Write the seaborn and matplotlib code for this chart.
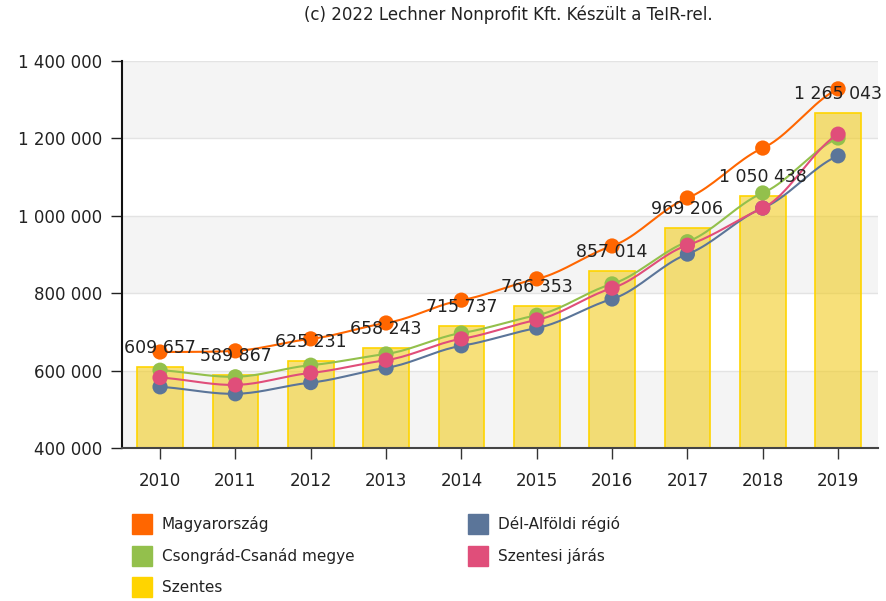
import numpy as np
import pandas as pd
import matplotlib
matplotlib.use("Agg")
import matplotlib.pyplot as plt
from matplotlib.lines import Line2D
import seaborn as sns

years = ["2010", "2011", "2012", "2013", "2014", "2015", "2016", "2017", "2018", "2019"]
szentes = [609657, 589867, 625231, 658243, 715737, 766353, 857014, 969206, 1050438, 1265043]
magyarorszag = [648000, 651000, 682000, 723000, 782000, 837000, 922000, 1046000, 1175000, 1328000]
csongrad = [601000, 584000, 614000, 643000, 697000, 743000, 824000, 933000, 1059000, 1201000]
szentesi_jaras = [582000, 563000, 594000, 627000, 682000, 731000, 813000, 924000, 1020000, 1211000]
del_alfold = [558000, 540000, 569000, 607000, 664000, 710000, 785000, 901000, 1020000, 1155000]

y_ticks = [400000, 600000, 800000, 1000000, 1200000, 1400000]

c_hu = "#FF6600"
c_cs = "#93C04C"
c_da = "#5B7599"
c_sj = "#E04E7A"
c_sz = "#FFD400"

sns.set_theme(style="white")
plt.rcParams["font.family"] = ["DejaVu Sans"]


def fmt(v):
    return f"{v:,}".replace(",", " ")


def smooth(xs, ys, n=20):
    """Cubic Hermite curve through the points, tangents from neighbours."""
    xs = np.asarray(xs, float)
    ys = np.asarray(ys, float)
    m = np.zeros_like(ys)
    m[1:-1] = (ys[2:] - ys[:-2]) / 2.0
    m[0] = ys[1] - ys[0]
    m[-1] = ys[-1] - ys[-2]
    m *= 0.6
    out_x, out_y = [], []
    for i in range(len(xs) - 1):
        t = np.linspace(0, 1, n, endpoint=False)
        h00 = 2 * t**3 - 3 * t**2 + 1
        h10 = t**3 - 2 * t**2 + t
        h01 = -2 * t**3 + 3 * t**2
        h11 = t**3 - t**2
        out_x.append(xs[i] + t * (xs[i + 1] - xs[i]))
        out_y.append(h00 * ys[i] + h10 * m[i] + h01 * ys[i + 1] + h11 * m[i + 1])
    out_x.append([xs[-1]])
    out_y.append([ys[-1]])
    return np.concatenate(out_x), np.concatenate(out_y)


fig = plt.figure(figsize=(8.87, 6.01), dpi=100)
ax = fig.add_axes([122 / 887, 1 - 448 / 601, (878 - 122) / 887, (448 - 61) / 601])

# alternating horizontal bands
for lo in (400000, 800000, 1200000):
    ax.axhspan(lo, lo + 200000, facecolor="#F4F4F4", zorder=0, lw=0)

ax.set_axisbelow(True)
ax.grid(True, axis="both", color="#E3E3E3", lw=1)

df = pd.DataFrame({"year": years, "value": szentes})
sns.barplot(data=df, x="year", y="value", ax=ax, color=c_sz,
            width=0.605, linewidth=1.2, saturation=1, zorder=2)
for container in ax.containers:
    for p in container:
        p.set_facecolor((0.95, 0.80, 0.13, 0.6))
        p.set_edgecolor(c_sz)

idx = np.arange(len(years))
series = [
    ("Magyarország", magyarorszag, c_hu),
    ("Dél-Alföldi régió", del_alfold, c_da),
    ("Csongrád-Csanád megye", csongrad, c_cs),
    ("Szentesi járás", szentesi_jaras, c_sj),
]
for z, (name, vals, col) in enumerate(series):
    sx, sy = smooth(idx, vals)
    ax.plot(sx, sy, color=col, lw=1.5, zorder=4 + z * 0.1)
    sns.scatterplot(x=idx, y=vals, ax=ax, color=col, s=120, edgecolor="none",
                    zorder=4.05 + z * 0.1, legend=False)

for i, v in enumerate(szentes):
    ax.annotate(fmt(v), (i, v), xytext=(0, 10), textcoords="offset points",
                ha="center", va="baseline", fontsize=12.5, color="#222222",
                zorder=10, annotation_clip=False)

ax.set_xlim(-0.505, 9.53)
ax.set_ylim(400000, 1400000)
ax.set_yticks(y_ticks)
ax.set_yticklabels([fmt(t) for t in y_ticks])
ax.set_xlabel("")
ax.set_ylabel("")
ax.tick_params(axis="both", which="both", labelsize=12, colors="#222222",
               length=8, width=1, direction="out", left=True, bottom=True)
ax.tick_params(axis="x", pad=9, color="#333333")
ax.tick_params(axis="y", pad=6, color="#222222")

for s in ("top", "right"):
    ax.spines[s].set_visible(False)
ax.spines["left"].set_color("#111111")
ax.spines["left"].set_linewidth(1.5)
ax.spines["bottom"].set_color("#444444")
ax.spines["bottom"].set_linewidth(1.5)

fig.text(0.573, 0.975, "(c) 2022 Lechner Nonprofit Kft. Készült a TeIR-rel.",
         ha="center", va="center", fontsize=12, color="#222222")

handles = [
    Line2D([], [], marker="s", ls="none", markersize=15, color=c_hu),
    Line2D([], [], marker="s", ls="none", markersize=15, color=c_cs),
    Line2D([], [], marker="s", ls="none", markersize=15, color=c_sz),
    Line2D([], [], marker="s", ls="none", markersize=15, color=c_da),
    Line2D([], [], marker="s", ls="none", markersize=15, color=c_sj),
]
labels = ["Magyarország", "Csongrád-Csanád megye", "Szentes",
          "Dél-Alföldi régió", "Szentesi járás"]
fig.legend(handles, labels, ncol=2, loc="upper left",
           bbox_to_anchor=(128 / 887, 1 - 510 / 601), frameon=False,
           fontsize=11, handletextpad=0.8, columnspacing=7.6,
           labelspacing=1.05, handlelength=1.0, borderaxespad=0,
           labelcolor="#222222")

fig.savefig("out.png", dpi=100)
